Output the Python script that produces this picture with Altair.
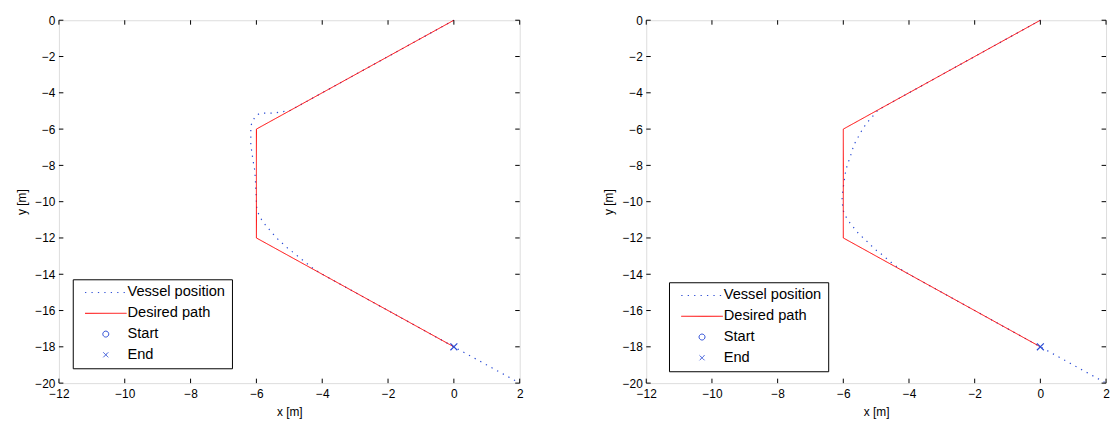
import altair as alt
import pandas as pd

# ---------------- data ----------------
series = ["Vessel position", "Desired path", "Start", "End"]

path_x = [0, -6, -6, 0]
path_y = [0, -6, -12, -18]

left_vx = [0, -4.0, -5.0, -5.09, -5.29, -5.5, -5.7, -5.87, -6.0, -6.1, -6.17, -6.17,
           -6.17, -6.17, -6.14, -6.11, -6.08, -6.05, -6.03, -6.01, -6.0, -5.99,
           -5.93, -5.84, -5.72, -5.6, -5.47, -5.33, -5.18, -5.03, -4.88, -4.73,
           -4.58, -4.43, -4.28, -4.0, -2.0, 0.0, 1.0, 2.0]
left_vy = [0, -4.0, -5.0, -5.01, -5.07, -5.12, -5.12, -5.12, -5.23, -5.5, -5.83, -6.21,
           -6.55, -6.87, -7.25, -7.63, -7.95, -8.28, -8.8, -9.5, -10.0, -10.35,
           -10.7, -11.0, -11.3, -11.55, -11.83, -12.1, -12.35, -12.59, -12.8, -13.02,
           -13.24, -13.46, -13.68, -14.0, -16.0, -18.0, -19.0, -20.0]

right_vx = [0, -4.0, -4.95, -5.02, -5.16, -5.29, -5.41, -5.5, -5.59, -5.68, -5.74,
            -5.8, -5.86, -5.92, -5.96, -6.0, -6.03, -6.04, -6.0, -5.89, -5.77,
            -5.65, -5.53, -5.36, -5.24, -5.09, -4.95, -4.78, -4.65, -4.5, -4.35,
            -4.0, -2.0, 0.0, 1.0, 2.0]
right_vy = [0, -4.0, -4.95, -5.12, -5.4, -5.67, -6.0, -6.27, -6.59, -6.87, -7.25,
            -7.57, -7.9, -8.23, -8.7, -9.2, -9.6, -9.97, -10.5, -10.95, -11.23,
            -11.5, -11.77, -12.05, -12.26, -12.53, -12.75, -12.97, -13.19, -13.41, -13.62,
            -14.0, -16.0, -18.0, -19.0, -20.0]

end_x = [0]
end_y = [-18]

xticks = [-12, -10, -8, -6, -4, -2, 0, 2]
yticks = [0, -2, -4, -6, -8, -10, -12, -14, -16, -18, -20]

# ---------------- style ----------------
FONT = "Liberation Sans"
BLUE = "#2a4bd4"
RED = "#ff0000"
H = 367
TICK = 4.5
LINE_SYM = "M-4.2,0H4.2"
CIRCLE_SYM = "M0.6,0A0.6,0.6 0 1,1 -0.6,0A0.6,0.6 0 1,1 0.6,0Z"
X_SYM = "M-0.5,-0.5L0.5,0.5M-0.5,0.5L0.5,-0.5"


def panel(vx, vy, width, lx, ly):
    xscale = alt.Scale(domain=[-12, 2], nice=False, zero=False)
    yscale = alt.Scale(domain=[-20, 0], nice=False, zero=False)
    xaxis = alt.Axis(values=xticks, ticks=False, tickSize=0, grid=False, domain=False,
                     labelFlush=False,
                     labelFont=FONT, labelFontSize=12, labelColor="black", labelPadding=6,
                     title="x [m]", titleFont=FONT, titleFontSize=12, titleFontWeight="normal",
                     titleColor="black", titlePadding=7)
    yaxis = alt.Axis(values=yticks, ticks=False, tickSize=0, grid=False, domain=False,
                     labelFont=FONT, labelFontSize=12, labelColor="black", labelPadding=4,
                     minExtent=24, maxExtent=24,
                     title="y [m]", titleFont=FONT, titleFontSize=12, titleFontWeight="normal",
                     titleColor="black", titlePadding=7)

    def X(f="x"):
        return alt.X(f, type="quantitative", scale=xscale, axis=xaxis)

    def Y(f="y"):
        return alt.Y(f, type="quantitative", scale=yscale, axis=yaxis)

    legend = alt.Legend(
        title=None, orient="none", legendX=lx, legendY=ly,
        strokeColor="black", fillColor="white", padding=6, cornerRadius=0,
        symbolSize=100, symbolOffset=20, labelOffset=14.5,
        labelFont=FONT, labelFontSize=14.8, labelColor="black", rowPadding=5,
        symbolStrokeWidth=1, symbolFillColor="transparent",
    )
    color = alt.Color("s:N", scale=alt.Scale(domain=series, range=[BLUE, RED, BLUE, BLUE]),
                      legend=legend)
    dash = alt.StrokeDash("s:N", scale=alt.Scale(domain=series,
                                                 range=[[1.3, 5.2], [1, 0], [1, 0], [1, 0]]),
                          legend=legend)
    shape = alt.Shape("s:N", scale=alt.Scale(domain=series,
                                             range=[LINE_SYM, LINE_SYM, CIRCLE_SYM, X_SYM]),
                      legend=legend)

    vdf = pd.DataFrame({"x": vx, "y": vy, "o": list(range(len(vx))), "s": series[0]})
    pdf = pd.DataFrame({"x": path_x, "y": path_y, "o": list(range(len(path_x))), "s": series[1]})
    edf = pd.DataFrame({"x": end_x, "y": end_y, "s": series[3]})
    xt = pd.DataFrame({"x": xticks})
    yt = pd.DataFrame({"y": yticks})

    vessel = alt.Chart(vdf).mark_line(strokeWidth=1.2).encode(
        x=X(), y=Y(), order="o:Q", color=color, strokeDash=dash)
    desired = alt.Chart(pdf).mark_line(strokeWidth=1).encode(
        x=X(), y=Y(), order="o:Q", color=color, strokeDash=dash)
    end = alt.Chart(edf).mark_point(filled=False, size=196,
                                   strokeWidth=1.2, opacity=1).encode(
        x=X(), y=Y(), color=color, shape=shape)
    xt_b = alt.Chart(xt).mark_rule(color="black", strokeWidth=1).encode(
        x=X(), y=alt.value(H), y2=alt.value(H - TICK))
    xt_t = alt.Chart(xt).mark_rule(color="black", strokeWidth=1).encode(
        x=X(), y=alt.value(0), y2=alt.value(TICK))
    yt_l = alt.Chart(yt).mark_rule(color="black", strokeWidth=1).encode(
        y=Y(), x=alt.value(0), x2=alt.value(TICK))
    yt_r = alt.Chart(yt).mark_rule(color="black", strokeWidth=1).encode(
        y=Y(), x=alt.value(width), x2=alt.value(width - TICK))

    return alt.layer(vessel, desired, end, xt_b, xt_t, yt_l, yt_r).properties(
        width=width, height=H)


left = panel(left_vx, left_vy, 466, 14, 262)
right = panel(right_vx, right_vy, 465, 23, 265)

chart = alt.hconcat(left, right, spacing=79).resolve_scale(
    color="independent", strokeDash="independent", shape="independent"
).resolve_legend(
    color="independent", strokeDash="independent", shape="independent"
).properties(
    padding={"left": 6.5, "top": 3, "right": 0, "bottom": 5}
).configure_view(stroke="black", strokeWidth=1.5).configure(background="white")

chart.save("out.html", embed_options={"renderer": "svg", "actions": False})
